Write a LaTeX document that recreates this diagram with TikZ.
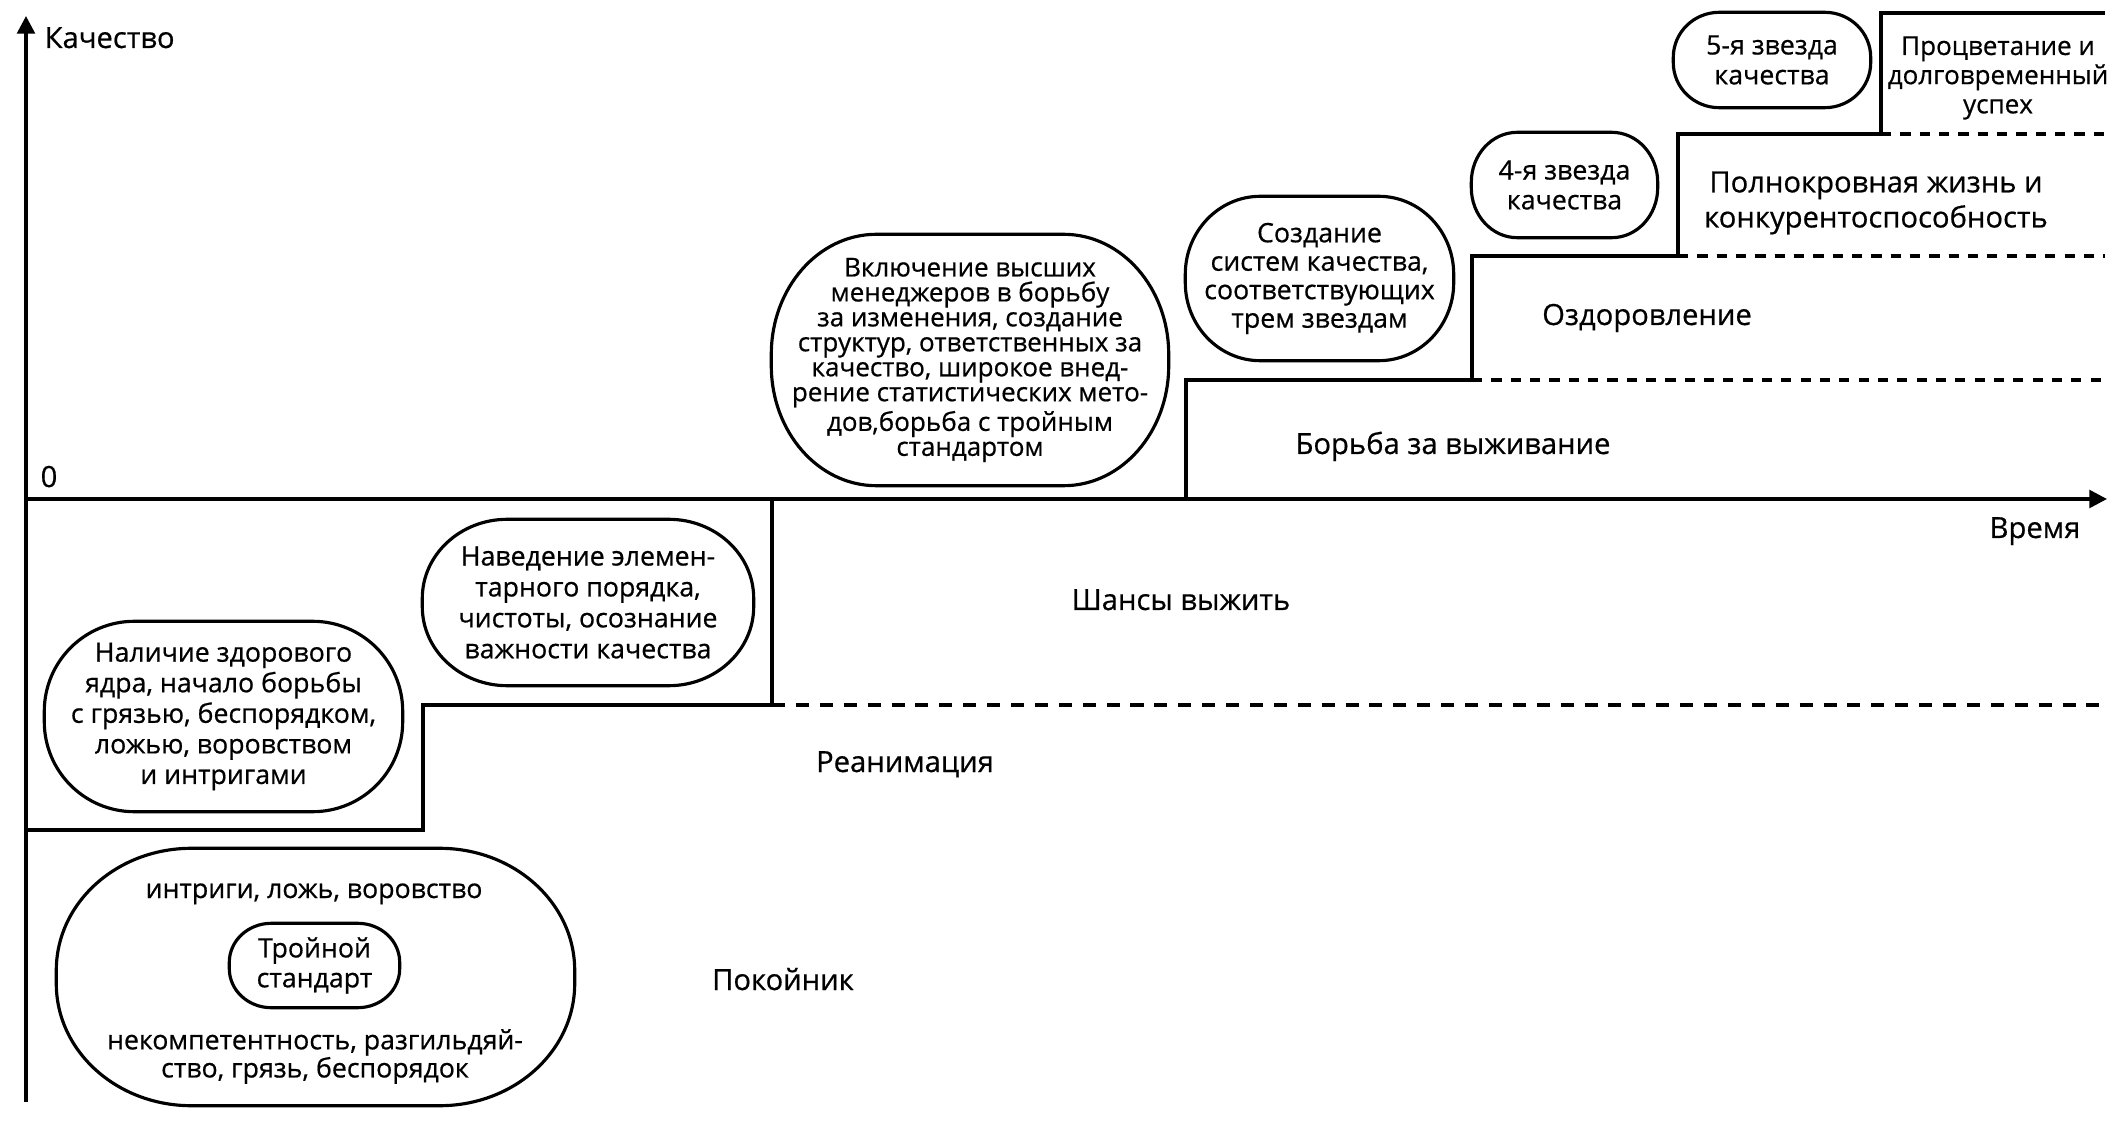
\documentclass[tikz,border=0pt]{standalone}
\usepackage{fontspec}
\setmainfont{Open Sans}[FakeBold=0.6]
\usetikzlibrary{arrows.meta}

\tikzset{
    axis/.style={line width=1pt, -{Triangle[length=5pt,width=5pt]}},
    stair/.style={line width=0.9pt},
    level/.style={line width=1pt, dash pattern=on 3.7pt off 3.1pt},
    bubble/.style={line width=0.9pt},
    bubbletext/.style={font=\fontsize{7.6}{8.7}\selectfont, align=center, inner sep=0pt},
    zone/.style={font=\fontsize{8.3}{10}\selectfont, align=center, inner sep=0pt}
}

% outline with elliptic corners round a node: node, x radius, y radius
\newcommand{\drawbubble}[3]{%
    \draw[bubble] ([xshift=#2]#1.north west) -- ([xshift=-#2]#1.north east)
        arc[start angle=90, end angle=0, x radius=#2, y radius=#3]
        -- ([yshift=#3]#1.south east)
        arc[start angle=0, end angle=-90, x radius=#2, y radius=#3]
        -- ([xshift=#2]#1.south west)
        arc[start angle=270, end angle=180, x radius=#2, y radius=#3]
        -- ([yshift=-#3]#1.north west)
        arc[start angle=180, end angle=90, x radius=#2, y radius=#3] -- cycle;
}

\begin{document}
\begin{tikzpicture}[scale=1]
        \useasboundingbox (0,0) rectangle (21.12,11.25);

        % axes
        \draw[axis] (0.26,0.23) -- (0.26,11.09);
        \draw[axis] (0.26,6.26) -- (21.07,6.26);
        \node[zone, anchor=base west] (quality) at (0.44,10.77) {Качество};
        \node[zone, anchor=base] (zero) at (0.49,6.38) {0};
        \node[zone, anchor=base] (time) at (20.35,5.87) {Время};

        % steps below the axis
        \draw[stair] (0.26,2.95) -- (4.23,2.95) -- (4.23,4.20) -- (7.72,4.20) -- (7.72,6.26);
        \draw[level] (7.72,4.20) -- (21.05,4.20);

        % steps above the axis
        \draw[stair] (11.86,6.26) -- (11.86,7.45) -- (14.72,7.45) -- (14.72,8.69)
            -- (16.78,8.69) -- (16.78,9.91) -- (18.81,9.91) -- (18.81,11.12) -- (21.05,11.12);
        \foreach \x/\y in {14.72/7.45, 16.78/8.69, 18.81/9.91}
            \draw[level, dash pattern=on 2.9pt off 2.6pt] (\x,\y) -- (21.05,\y);

        % zones
        \node[zone, anchor=base] (dead) at (7.83,1.35) {Покойник};
        \node[zone, anchor=base] (revival) at (9.05,3.53) {Реанимация};
        \node[zone, anchor=base] (chances) at (11.81,5.15) {Шансы выжить};
        \node[zone, anchor=base] (survival) at (14.53,6.71) {Борьба за выживание};
        \node[zone, anchor=base] (recovery) at (16.47,8.00) {Оздоровление};
        \node[zone] (fulllife) at (18.76,9.22) {Полнокровная жизнь и\\конкурентоспособность};
        \node[bubbletext, font=\fontsize{7.4}{8.3}\selectfont] (success) at (19.98,10.47)
            {Процветание и\\долговременный\\успех};

        % bubbles
        \node[bubbletext, minimum width=5.17cm, minimum height=2.56cm] (deadbox) at (3.155,1.48) {};
        \node[bubbletext, minimum width=1.69cm, minimum height=0.83cm,
            font=\fontsize{7.6}{8.5}\selectfont] (triple) at (3.145,1.595) {Тройной\\стандарт};
        \node[bubbletext, anchor=base] (vices) at (3.14,2.27) {интриги, ложь, воровство};
        \node[bubbletext, font=\fontsize{7.6}{8.0}\selectfont] (sloth) at (3.15,0.685)
            {некомпетентность, разгильдяй-\\ство, грязь, беспорядок};
        \drawbubble{deadbox}{1.35cm}{1.22cm}
        \drawbubble{triple}{0.42cm}{0.39cm}

        \node[bubbletext, minimum width=3.57cm, minimum height=1.89cm] (core) at (2.235,4.085)
            {Наличие здорового\\ядра, начало борьбы\\с грязью, беспорядком,\\ложью, воровством\\и интригами};
        \drawbubble{core}{0.9cm}{0.9cm}

        \node[bubbletext, minimum width=3.30cm, minimum height=1.65cm,
            font=\fontsize{7.6}{8.8}\selectfont] (order) at (5.88,5.225)
            {Наведение элемен-\\тарного порядка,\\чистоты, осознание\\важности качества};
        \drawbubble{order}{0.85cm}{0.79cm}

        \node[bubbletext, minimum width=3.96cm, minimum height=2.50cm,
            font=\fontsize{7.4}{7.1}\selectfont] (managers) at (9.70,7.65)
            {Включение высших\\менеджеров в борьбу\\за изменения, создание\\структур, ответственных за\\качество, широкое внед-\\рение статистических мето-\\дов,борьба с тройным\\стандартом};
        \drawbubble{managers}{1.05cm}{1.2cm}

        \node[bubbletext, minimum width=2.67cm, minimum height=1.63cm,
            font=\fontsize{7.6}{8.1}\selectfont] (systems) at (13.195,8.465)
            {Создание\\систем качества,\\соответствующих\\трем звездам};
        \drawbubble{systems}{0.75cm}{0.78cm}

        \node[bubbletext, minimum width=1.85cm, minimum height=1.04cm,
            font=\fontsize{7.6}{8.5}\selectfont] (star4) at (15.645,9.40) {4-я звезда\\качества};
        \drawbubble{star4}{0.46cm}{0.5cm}

        \node[bubbletext, minimum width=1.96cm, minimum height=0.94cm,
            font=\fontsize{7.6}{8.5}\selectfont] (star5) at (17.72,10.65) {5-я звезда\\качества};
        \drawbubble{star5}{0.46cm}{0.45cm}
    \end{tikzpicture}
\end{document}
